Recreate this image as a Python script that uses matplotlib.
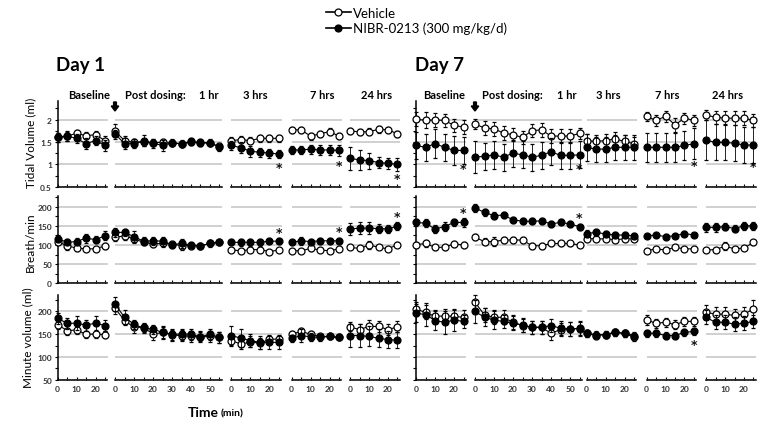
import matplotlib
matplotlib.use("Agg")
import matplotlib.pyplot as plt
from matplotlib.lines import Line2D
from matplotlib.patches import FancyArrow
from matplotlib.ticker import MultipleLocator

plt.rcParams['font.family'] = ['Lato', 'DejaVu Sans']

# ---------------- data ----------------
base_t = [0, 5, 10, 15, 20, 25]
post_t = [0, 5, 10, 15, 20, 25, 30, 35, 40, 45, 50, 55]

# each series: baseline(6) + post dosing(12) + 3 hrs(6) + 7 hrs(6) + 24 hrs(6)
tv_d1_veh = [1.60, 1.63, 1.69, 1.64, 1.66, 1.53,
             1.74, 1.53, 1.49, 1.49, 1.48, 1.49, 1.47, 1.46, 1.49, 1.48, 1.47, 1.40,
             1.53, 1.55, 1.53, 1.58, 1.58, 1.58,
             1.77, 1.77, 1.63, 1.68, 1.73, 1.63,
             1.75, 1.72, 1.73, 1.78, 1.77, 1.68]
tv_d1_drug = [1.60, 1.63, 1.58, 1.46, 1.53, 1.42,
              1.68, 1.46, 1.46, 1.53, 1.47, 1.42, 1.48, 1.46, 1.51, 1.49, 1.48, 1.38,
              1.42, 1.37, 1.29, 1.27, 1.25, 1.23,
              1.32, 1.32, 1.34, 1.32, 1.32, 1.31,
              1.13, 1.10, 1.08, 1.04, 1.02, 1.00]
tv_d1_veh_se = [0.10, 0.10, 0.08, 0.08, 0.08, 0.10,
                0.17, 0.10, 0.08, 0.08, 0.08, 0.08, 0.07, 0.07, 0.07, 0.07, 0.07, 0.07,
                0.08, 0.08, 0.08, 0.08, 0.08, 0.08,
                0.07, 0.07, 0.08, 0.07, 0.07, 0.07,
                0.07, 0.07, 0.07, 0.07, 0.07, 0.07]
tv_d1_drug_se = [0.10, 0.12, 0.10, 0.12, 0.10, 0.12,
                 0.08, 0.12, 0.10, 0.12, 0.10, 0.12, 0.08, 0.08, 0.08, 0.08, 0.08, 0.08,
                 0.10, 0.12, 0.12, 0.10, 0.10, 0.08,
                 0.08, 0.08, 0.10, 0.12, 0.12, 0.12,
                 0.25, 0.22, 0.18, 0.12, 0.12, 0.15]

tv_d7_veh = [2.01, 1.98, 1.99, 1.98, 1.87, 1.83,
             1.90, 1.81, 1.79, 1.70, 1.66, 1.60, 1.75, 1.77, 1.63, 1.63, 1.63, 1.69,
             1.53, 1.51, 1.53, 1.57, 1.51, 1.46,
             2.07, 1.98, 2.07, 1.88, 2.03, 1.98,
             2.10, 2.05, 2.03, 2.03, 2.03, 1.98]
tv_d7_drug = [1.42, 1.38, 1.46, 1.38, 1.31, 1.31,
              1.16, 1.18, 1.21, 1.16, 1.25, 1.21, 1.16, 1.20, 1.28, 1.20, 1.20, 1.21,
              1.38, 1.34, 1.34, 1.38, 1.38, 1.38,
              1.38, 1.38, 1.38, 1.38, 1.42, 1.46,
              1.54, 1.49, 1.49, 1.47, 1.43, 1.43]
tv_d7_veh_se = [0.15, 0.18, 0.15, 0.15, 0.15, 0.15,
                0.12, 0.15, 0.15, 0.15, 0.15, 0.15, 0.15, 0.15, 0.15, 0.15, 0.15, 0.12,
                0.15, 0.15, 0.15, 0.15, 0.15, 0.15,
                0.10, 0.12, 0.12, 0.15, 0.12, 0.12,
                0.12, 0.15, 0.15, 0.15, 0.15, 0.15]
tv_d7_drug_se = [0.30, 0.30, 0.32, 0.30, 0.32, 0.30,
                 0.35, 0.30, 0.32, 0.30, 0.30, 0.30, 0.30, 0.30, 0.30, 0.30, 0.30, 0.30,
                 0.30, 0.28, 0.28, 0.28, 0.28, 0.28,
                 0.32, 0.32, 0.32, 0.32, 0.32, 0.35,
                 0.45, 0.40, 0.40, 0.40, 0.40, 0.40]

br_d1_veh = [109, 98, 92, 90, 90, 98,
             120, 124, 116, 107, 103, 104, 103, 98, 98, 98, 104, 107,
             87, 85, 88, 88, 83, 87,
             85, 85, 91, 87, 85, 90,
             94, 91, 100, 94, 90, 101]
br_d1_drug = [117, 107, 109, 118, 114, 124,
              133, 133, 122, 110, 111, 110, 101, 104, 100, 98, 104, 107,
              107, 107, 107, 107, 110, 110,
              107, 111, 109, 111, 111, 111,
              142, 144, 144, 143, 142, 149]
br_d1_veh_se = [8, 10, 8, 5, 5, 8,
                10, 12, 10, 8, 8, 8, 8, 10, 8, 5, 5, 5,
                5, 5, 5, 5, 5, 5,
                5, 5, 6, 5, 5, 5,
                5, 5, 10, 5, 5, 6]
br_d1_drug_se = [8, 8, 10, 12, 10, 12,
                 12, 10, 15, 10, 10, 12, 8, 12, 8, 8, 8, 6,
                 8, 10, 10, 10, 8, 8,
                 6, 10, 8, 8, 8, 8,
                 15, 15, 15, 12, 10, 10]

br_d7_veh = [101, 104, 94, 94, 103, 100,
             120, 109, 109, 113, 113, 113, 98, 98, 104, 104, 104, 100,
             117, 116, 116, 114, 116, 116,
             85, 90, 87, 94, 90, 90,
             87, 88, 97, 90, 92, 107]
br_d7_drug = [159, 157, 142, 148, 159, 159,
              197, 185, 177, 178, 166, 162, 162, 163, 155, 159, 155, 148,
              130, 133, 129, 126, 126, 124,
              124, 126, 122, 124, 130, 126,
              146, 146, 148, 143, 150, 150]
br_d7_veh_se = [8, 10, 6, 6, 8, 8,
                8, 10, 12, 8, 8, 8, 8, 8, 6, 6, 6, 6,
                6, 6, 6, 6, 6, 6,
                5, 5, 5, 6, 5, 5,
                5, 5, 10, 5, 5, 6]
br_d7_drug_se = [10, 10, 10, 12, 10, 12,
                 10, 8, 8, 8, 8, 8, 8, 8, 8, 8, 8, 8,
                 10, 10, 8, 8, 8, 8,
                 6, 6, 6, 6, 6, 6,
                 12, 12, 10, 10, 10, 10]

mv_d1_veh = [171, 158, 159, 150, 150, 149,
             207, 180, 165, 165, 150, 154, 148, 147, 145, 144, 145, 143,
             136, 128, 133, 130, 139, 139,
             150, 156, 150, 145, 145, 143,
             166, 160, 167, 167, 160, 166]
mv_d1_drug = [185, 174, 174, 170, 174, 169,
              216, 187, 172, 163, 161, 154, 150, 150, 150, 144, 150, 143,
              147, 141, 136, 132, 132, 132,
              141, 147, 144, 143, 145, 143,
              147, 147, 145, 141, 138, 137]
mv_d1_veh_se = [10, 10, 8, 8, 8, 8,
                12, 10, 12, 10, 12, 12, 12, 12, 12, 10, 12, 12,
                12, 10, 12, 12, 10, 10,
                8, 8, 8, 6, 6, 6,
                10, 12, 15, 12, 12, 12]
mv_d1_drug_se = [12, 12, 15, 12, 15, 12,
                 15, 15, 10, 10, 10, 15, 12, 12, 12, 12, 12, 12,
                 20, 20, 15, 15, 15, 15,
                 8, 15, 8, 8, 6, 6,
                 25, 25, 22, 20, 18, 18]

mv_d7_veh = [205, 198, 189, 190, 189, 187,
             220, 192, 187, 187, 176, 169, 165, 165, 152, 160, 162, 162,
             152, 147, 149, 154, 152, 143,
             181, 174, 176, 171, 178, 178,
             198, 194, 194, 191, 194, 205]
mv_d7_drug = [196, 193, 180, 176, 181, 178,
              200, 187, 181, 178, 174, 170, 165, 165, 169, 163, 161, 163,
              152, 149, 149, 154, 152, 147,
              152, 152, 147, 147, 154, 156,
              187, 176, 176, 172, 174, 178]
mv_d7_veh_se = [15, 15, 15, 15, 15, 15,
                15, 15, 15, 15, 15, 15, 15, 15, 15, 15, 15, 15,
                8, 8, 8, 8, 8, 8,
                10, 10, 10, 10, 10, 10,
                15, 15, 15, 15, 15, 20]
mv_d7_drug_se = [20, 25, 20, 25, 25, 15,
                 25, 20, 20, 15, 15, 15, 15, 15, 15, 15, 15, 15,
                 8, 8, 8, 8, 8, 8,
                 8, 8, 8, 8, 8, 8,
                 15, 15, 15, 15, 15, 15]

# significance markers: (row, day, period, x, y)
ast_row = [0, 0, 0, 0, 0, 0, 0, 1, 1, 1, 1, 1, 2]
ast_day = [1, 1, 1, 7, 7, 7, 7, 1, 1, 1, 7, 7, 7]
ast_per = [2, 3, 4, 0, 1, 3, 4, 2, 3, 4, 0, 1, 3]
ast_x = [25, 25, 25, 25, 55, 25, 25, 25, 25, 25, 25, 55, 25]
ast_y = [0.93, 0.98, 0.68, 0.90, 0.90, 0.98, 0.96, 132, 134, 175, 186, 172, 128]

row_labels = ["Tidal Volume (ml)", "Breath/min", "Minute volume (ml)"]
row_ylim = [(0.5, 2.42), (0, 228), (50, 236)]
row_major = [[0.5, 1, 1.5, 2], [0, 50, 100, 150, 200], [50, 100, 150, 200]]
row_ticklabels = [["0.5", "1", "1.5", "2"], ["0", "50", "100", "150", "200"],
                  ["50", "100", "150", "200"]]
row_minor = [0.25, 25, 25]
short_ticks = [0, 5, 10, 15, 20, 25]
post_ticks = [0, 5, 10, 15, 20, 25, 30, 35, 40, 45, 50, 55]

series = {
    (0, 1): (tv_d1_veh, tv_d1_veh_se, tv_d1_drug, tv_d1_drug_se),
    (0, 7): (tv_d7_veh, tv_d7_veh_se, tv_d7_drug, tv_d7_drug_se),
    (1, 1): (br_d1_veh, br_d1_veh_se, br_d1_drug, br_d1_drug_se),
    (1, 7): (br_d7_veh, br_d7_veh_se, br_d7_drug, br_d7_drug_se),
    (2, 1): (mv_d1_veh, mv_d1_veh_se, mv_d1_drug, mv_d1_drug_se),
    (2, 7): (mv_d7_veh, mv_d7_veh_se, mv_d7_drug, mv_d7_drug_se),
}

# ---------------- layout ----------------
W, H = 763, 431
fig = plt.figure(figsize=(W / 100, H / 100), dpi=100)
PPM = 1.9  # pixels per minute
panel_left = {1: [57.5, 115, 231.5, 291.5, 350], 7: [416, 475, 586.5, 646.5, 706]}
row_px = [(101.7, 187.7), (197, 284.3), (296, 380.7)]

grey = '#c8c8c8'
tick_col = '#333333'


def seg(lst, p):
    bounds = [0, 6, 18, 24, 30, 36]
    return lst[bounds[p]:bounds[p + 1]]


axes = {}
for r in range(3):
    top, bot = row_px[r]
    for day in (1, 7):
        veh, veh_se, drug, drug_se = series[(r, day)]
        for p in range(5):
            xmax = 56.5 if p == 1 else 26.5
            left = panel_left[day][p]
            ax = fig.add_axes([left / W, 1 - bot / H, xmax * PPM / W, (bot - top) / H])
            axes[(r, day, p)] = ax
            t = post_t if p == 1 else base_t
            ticks = post_ticks if p == 1 else short_ticks
            ax.set_xlim(0, xmax)
            ax.set_ylim(*row_ylim[r])
            for s in ('top', 'right'):
                ax.spines[s].set_visible(False)
            ax.spines['bottom'].set_linewidth(1.1)
            ax.spines['bottom'].set_bounds(0, xmax - 0.3)
            ax.set_yticks(row_major[r])
            ax.yaxis.set_minor_locator(MultipleLocator(row_minor[r]))
            ax.yaxis.grid(True, which='major', color=grey, lw=1.2, zorder=0)
            ax.set_axisbelow(True)
            if p == 0:
                ax.spines['left'].set_linewidth(1.1)
                ax.tick_params(axis='y', which='major', direction='out', length=2.5,
                               width=0.8, pad=1.5, labelsize=6, labelcolor=tick_col)
                ax.tick_params(axis='y', which='minor', direction='out', length=2.5, width=0.8)
                if day == 1:
                    ax.set_yticklabels(row_ticklabels[r], fontweight='bold')
                else:
                    ax.tick_params(axis='y', labelleft=False)
            else:
                ax.spines['left'].set_visible(False)
                ax.tick_params(axis='y', which='both', left=False, labelleft=False)
            ax.set_xticks(ticks)
            ax.tick_params(axis='x', direction='in', length=2.5, width=0.8)
            if r == 2:
                labs = [str(v) if v % 10 == 0 else '' for v in ticks]
                ax.set_xticklabels(labs, fontsize=6, fontweight='bold', color=tick_col)
                ax.tick_params(axis='x', pad=4)
            else:
                ax.tick_params(axis='x', labelbottom=False)

            ax.errorbar(t, seg(veh, p), yerr=seg(veh_se, p), fmt='-o', color='black',
                        mfc='white', mec='black', ms=5, mew=0.9, lw=0.8, elinewidth=0.6,
                        capsize=1.5, capthick=0.6, clip_on=False, zorder=3)
            ax.errorbar(t, seg(drug, p), yerr=seg(drug_se, p), fmt='-o', color='black',
                        mfc='black', mec='black', ms=5, mew=0.9, lw=0.8, elinewidth=0.6,
                        capsize=1.5, capthick=0.6, clip_on=False, zorder=4)

for i in range(len(ast_row)):
    ax = axes[(ast_row[i], ast_day[i], ast_per[i])]
    ax.text(ast_x[i], ast_y[i], '*', ha='center', va='center', fontsize=9,
            family='DejaVu Sans', fontweight='bold', color='#111111', clip_on=False)

# row labels
row_label_px = [(31, 143), (30, 242), (28, 338)]
for r in range(3):
    fig.text(row_label_px[r][0] / W, 1 - row_label_px[r][1] / H, row_labels[r],
             rotation=90, ha='center', va='center', fontsize=8.5)

# panel titles
titles = [("Baseline", 88.8), ("Post dosing:", 155), ("1 hr", 209), ("3 hrs", 255),
          ("7 hrs", 322), ("24 hrs", 377),
          ("Baseline", 444), ("Post dosing:", 512), ("1 hr", 567), ("3 hrs", 608),
          ("7 hrs", 667), ("24 hrs", 728)]
for txt, xc in titles:
    fig.text(xc / W, 1 - 95.5 / H, txt, ha='center', va='center', fontsize=8,
             fontweight='bold')

fig.text(56 / W, 1 - 66 / H, "Day 1", ha='left', va='center', fontsize=13.5,
         fontweight='bold')
fig.text(415 / W, 1 - 66 / H, "Day 7", ha='left', va='center', fontsize=13.5,
         fontweight='bold')

# dosing arrows
for xa in (115, 475):
    fig.patches.append(FancyArrow(
        xa / W, 1 - 103 / H, 0, -9 / H, width=2.8 / W, head_width=7.5 / W,
        head_length=5 / H, length_includes_head=True, color='black',
        transform=fig.transFigure, figure=fig))

# x label
fig.text(219 / W, 1 - 413 / H, "Time", ha='right', va='center', fontsize=10,
         fontweight='bold')
fig.text(221 / W, 1 - 414 / H, "(min)", ha='left', va='center', fontsize=7.5,
         fontweight='bold')

# legend
handles = [Line2D([], [], color='black', marker='o', mfc='white', mec='black', ms=5,
                  lw=1.2, mew=0.9),
           Line2D([], [], color='black', marker='o', mfc='black', mec='black', ms=5,
                  lw=1.2, mew=0.9)]
fig.legend(handles, ["Vehicle", "NIBR-0213 (300 mg/kg/d)"], loc='upper left',
           bbox_to_anchor=(319 / W, 1 - 1 / H), frameon=False,
           handlelength=1.9, handletextpad=0.2, labelspacing=0.25, borderpad=0,
           prop={'weight': 'normal', 'size': 9.5})

fig.savefig("out.png", dpi=100)
